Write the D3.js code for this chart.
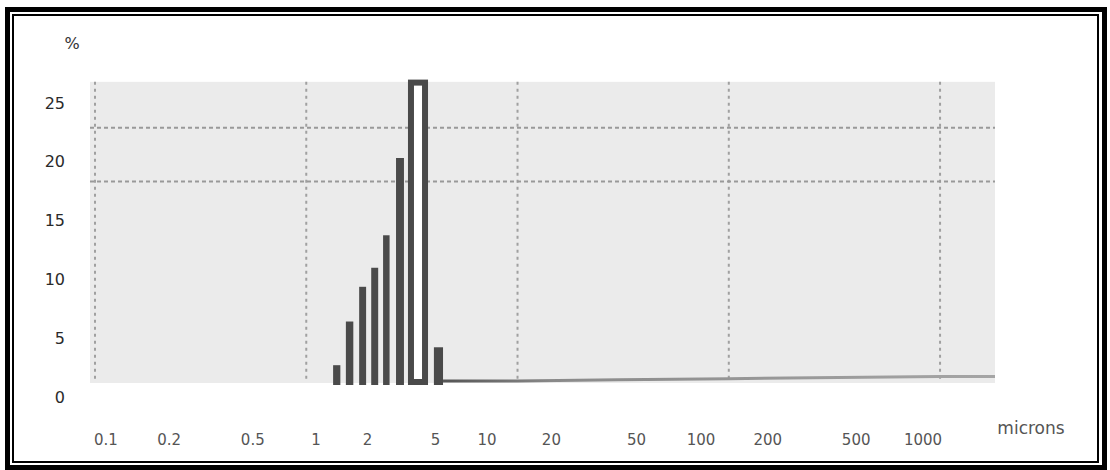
<!DOCTYPE html>
<html>
<head>
<meta charset="utf-8">
<script src="https://cdn.jsdelivr.net/npm/d3@7"></script>
<style>
  html, body { margin: 0; padding: 0; background: #fff; }
  svg { display: block; }
</style>
</head>
<body>
<svg id="chart" width="1110" height="470"></svg>
<script>
// ---- data ----
const binLowMicrons  = [1.34, 1.54, 1.78, 2.03, 2.31, 2.66, 3.03, 4.02];
const binHighMicrons = [1.45, 1.67, 1.92, 2.19, 2.47, 2.90, 3.77, 4.44];
const binPercent     = [1.5, 5.4, 8.5, 10.2, 13.1, 20.0, 27.0, 3.1];
const tailMicrons    = [4.44, 10, 30, 100, 1000, 1820];
const tailPercent    = [0.1, 0.1, 0.2, 0.3, 0.5, 0.5];
const yTickLabels    = [0, 5, 10, 15, 20, 25];
const xTickLabels    = [0.1, 0.2, 0.5, 1, 2, 5, 10, 20, 50, 100, 200, 500, 1000];
const gridMicrons    = [0.1, 1, 10, 100, 1000];
const gridPercent    = [17.9, 22.7];
const xUnit = "microns";
const yUnit = "%";

// ---- layout ----
const svg = d3.select("#chart");
const plotLeft = 90, plotRight = 995, plotBottom = 382;

const x = d3.scaleLog().domain([0.0947, 1820]).range([plotLeft, plotRight]);
const y = d3.scaleLinear().domain([0, 25]).range([plotBottom, 102]);
// positions of the printed labels (as they sit in the scanned chart)
const yLab = d3.scaleLinear().domain([0, 25]).range([397, 103]);
const xLab = d3.scaleLog().domain([0.1, 1, 10, 100, 1000]).range([106, 316, 487, 701, 923]);

// frame
svg.append("rect").attr("x", 7.5).attr("y", 9.5).attr("width", 1097).attr("height", 458)
  .attr("fill", "none").attr("stroke", "#000").attr("stroke-width", 5);
svg.append("rect").attr("x", 13).attr("y", 15).attr("width", 1085).attr("height", 447)
  .attr("fill", "none").attr("stroke", "#000").attr("stroke-width", 2);

// plot background
svg.append("rect")
  .attr("x", plotLeft).attr("y", y(26.8))
  .attr("width", plotRight - plotLeft).attr("height", plotBottom - y(26.8) + 1)
  .attr("fill", "#ebebeb");

// grid
svg.append("g").selectAll("line").data(gridMicrons).join("line")
  .attr("x1", d => x(d)).attr("x2", d => x(d))
  .attr("y1", y(26.8)).attr("y2", plotBottom)
  .attr("stroke", "#a0a0a0").attr("stroke-width", 2).attr("stroke-dasharray", "3,4");
svg.append("g").selectAll("line").data(gridPercent).join("line")
  .attr("x1", plotLeft).attr("x2", plotRight)
  .attr("y1", d => y(d)).attr("y2", d => y(d))
  .attr("stroke", "#999").attr("stroke-width", 2).attr("stroke-dasharray", "4,3");

// tail line
const tail = tailMicrons.map((m, i) => [m, tailPercent[i]]);
const grad = svg.append("defs").append("linearGradient").attr("id", "tailGrad")
  .attr("x1", "0%").attr("x2", "100%");
grad.append("stop").attr("offset", "0%").attr("stop-color", "#555");
grad.append("stop").attr("offset", "20%").attr("stop-color", "#8a8a8a");
grad.append("stop").attr("offset", "100%").attr("stop-color", "#a5a5a5");
svg.append("path")
  .attr("d", d3.line().x(d => x(d[0])).y(d => y(d[1]))(tail))
  .attr("fill", "none").attr("stroke", "url(#tailGrad)").attr("stroke-width", 3);

// bars
const bins = binPercent.map((v, i) => ({ lo: binLowMicrons[i], hi: binHighMicrons[i], v }));
const sw = 6;
svg.append("g").selectAll("rect").data(bins).join("rect")
  .attr("x", d => x(d.lo) + sw / 2)
  .attr("width", d => Math.max(x(d.hi) - x(d.lo) - sw, 0.5))
  .attr("y", d => y(d.v) + sw / 2)
  .attr("height", d => y(0) - y(d.v) - sw / 2)
  .attr("fill", "#fff")
  .attr("stroke", "#4a4a4a")
  .attr("stroke-width", sw);

// y labels
const font = "DejaVu Sans, Verdana, sans-serif";
svg.append("g").selectAll("text").data(yTickLabels).join("text")
  .attr("x", 65).attr("y", d => yLab(d))
  .attr("dy", "0.35em").attr("text-anchor", "end")
  .attr("font-family", font).attr("font-size", 16).attr("fill", "#2a2a2a")
  .text(d => d);
svg.append("text").attr("x", 72).attr("y", 43).attr("dy", "0.35em")
  .attr("text-anchor", "middle").attr("font-family", font).attr("font-size", 16)
  .attr("fill", "#333").text(yUnit);

// x labels
svg.append("g").selectAll("text").data(xTickLabels).join("text")
  .attr("x", d => xLab(d)).attr("y", 440).attr("dy", "0.35em")
  .attr("text-anchor", "middle")
  .attr("font-family", font).attr("font-size", 15).attr("fill", "#555")
  .text(d => d);
svg.append("text").attr("x", 1031).attr("y", 428).attr("dy", "0.35em")
  .attr("text-anchor", "middle").attr("font-family", font).attr("font-size", 17)
  .attr("fill", "#555").text(xUnit);
</script>
</body>
</html>
